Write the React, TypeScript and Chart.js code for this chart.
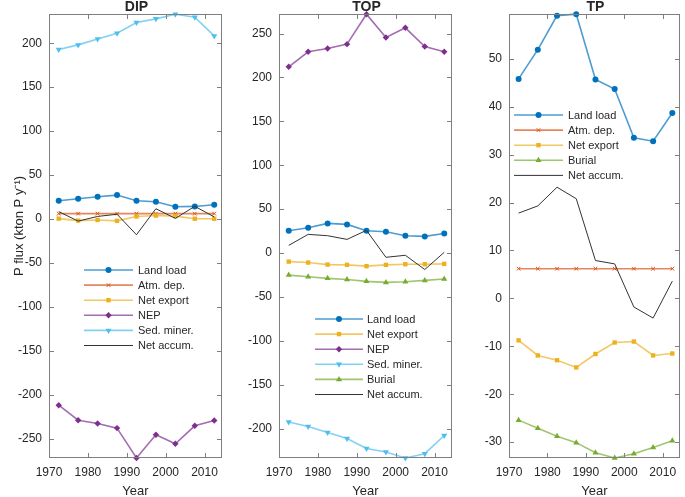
import React, { useEffect, useRef } from 'react';
import { Chart, registerables } from 'chart.js';

Chart.register(...registerables);

const FONT = "'Liberation Sans', Arial, Helvetica, sans-serif";
const TEXT = '#262626';
const AXIS = '#7f7f7f';
const H = 497;

// ---------- data ----------
const years = [1972.5, 1977.5, 1982.5, 1987.5, 1992.5, 1997.5, 2002.5, 2007.5, 2012.5];
const xMin = 1970;
const xMax = 2014.5;
const xTicks = [1970, 1980, 1990, 2000, 2010];

const dipYTicks = [-250, -200, -150, -100, -50, 0, 50, 100, 150, 200];
const topYTicks = [-200, -150, -100, -50, 0, 50, 100, 150, 200, 250];
const tpYTicks = [-30, -20, -10, 0, 10, 20, 30, 40, 50];

// DIP
const dipLandLoad = [20.8, 23.1, 25.4, 27.3, 20.8, 19.7, 14.0, 14.4, 16.3];
const dipAtmDep = [6.2, 6.2, 6.2, 6.2, 6.2, 6.2, 6.2, 6.2, 6.2];
const dipNetExport = [0.5, -1.7, -1.0, -2.0, 3.0, 4.0, 3.4, 0.4, 0.4];
const dipNEP = [-211.7, -228.7, -232.5, -237.7, -271.7, -245.3, -255.5, -235.1, -229.1];
const dipSedMiner = [192.8, 198.1, 204.9, 211.4, 223.5, 227.7, 233.0, 229.6, 208.3];
const dipNetAccum = [8.5, -2.3, 3.0, 5.5, -17.8, 11.8, 0.8, 14.5, 2.5];

// TOP
const topLandLoad = [25.4, 28.8, 33.7, 32.6, 25.4, 24.2, 19.7, 18.9, 22.3];
const topNetExport = [-9.8, -10.9, -13.2, -13.5, -15.0, -13.5, -12.8, -12.8, -12.4];
const topNEP = [212.1, 229.2, 233.0, 237.9, 272.0, 245.5, 256.5, 235.2, 229.2];
const topSedMiner = [-192.5, -197.7, -204.5, -211.3, -222.6, -226.7, -233.5, -228.6, -207.9];
const topBurial = [-25.2, -27.1, -28.9, -30.1, -32.3, -33.5, -32.7, -31.2, -29.7];
const topNetAccum = [8.7, 21.2, 19.7, 15.5, 25.8, -4.9, -2.6, -18.8, 0.8];

// TP
const tpLandLoad = [45.8, 51.9, 59.0, 59.3, 45.7, 43.7, 33.5, 32.8, 38.7];
const tpAtmDep = [6.2, 6.2, 6.2, 6.2, 6.2, 6.2, 6.2, 6.2, 6.2];
const tpNetExport = [-8.75, -11.9, -12.9, -14.4, -11.6, -9.2, -9.0, -11.9, -11.5];
const tpBurial = [-25.4, -27.1, -28.75, -30.1, -32.2, -33.3, -32.4, -31.1, -29.7];
const tpNetAccum = [17.8, 19.3, 23.2, 20.8, 7.9, 7.2, -1.8, -4.1, 3.6];

// ---------- styles ----------
const STYLE: any = {
  land: { label: 'Land load', color: '#0072BD', point: 'circle', r: 3 },
  atm: { label: 'Atm. dep.', color: '#D95319', point: 'crossRot', r: 2.6 },
  exp: { label: 'Net export', color: '#EDB120', point: 'rect', r: 3.1 },
  nep: { label: 'NEP', color: '#7E2F8E', point: 'rectRot', r: 3.2 },
  sed: { label: 'Sed. miner.', color: '#4DBEEE', point: 'triangle', r: 3.5, rot: 180 },
  bur: { label: 'Burial', color: '#77AC30', point: 'triangle', r: 3.5, rot: 0 },
  acc: { label: 'Net accum.', color: '#262626', point: null, r: 0 },
};

const panels: any[] = [
  {
    title: 'DIP', left: 0, width: 230, padRight: 8, yTicks: dipYTicks,
    yTitle: 'P flux (kton P y\u207B\u00B9)',
    legend: { x0: 84, x1: 133, tx: 138, y0: 270, dy: 15.1 },
    series: [
      ['land', dipLandLoad], ['atm', dipAtmDep], ['exp', dipNetExport],
      ['nep', dipNEP], ['sed', dipSedMiner], ['acc', dipNetAccum],
    ],
  },
  {
    title: 'TOP', left: 230, width: 230, padRight: 8, yTicks: topYTicks,
    legend: { x0: 85, x1: 133, tx: 137, y0: 319, dy: 15.1 },
    series: [
      ['land', topLandLoad], ['exp', topNetExport], ['nep', topNEP],
      ['sed', topSedMiner], ['bur', topBurial], ['acc', topNetAccum],
    ],
  },
  {
    title: 'TP', left: 460, width: 225, padRight: 1, yTicks: tpYTicks,
    legend: { x0: 54, x1: 103, tx: 108, y0: 115, dy: 15.1 },
    series: [
      ['land', tpLandLoad], ['atm', tpAtmDep], ['exp', tpNetExport],
      ['bur', tpBurial], ['acc', tpNetAccum],
    ],
  },
];

function withAlpha(hex: string, a: number) {
  const n = parseInt(hex.slice(1), 16);
  return `rgba(${(n >> 16) & 255},${(n >> 8) & 255},${n & 255},${a})`;
}

function lineColor(s: any) {
  return s.point ? withAlpha(s.color, 0.7) : '#333333';
}

function drawMarker(ctx: CanvasRenderingContext2D, s: any, x: number, y: number) {
  const r = s.r;
  ctx.save();
  ctx.fillStyle = s.color;
  ctx.strokeStyle = s.color;
  ctx.lineWidth = 1;
  ctx.beginPath();
  if (s.point === 'circle') {
    ctx.arc(x, y, r, 0, Math.PI * 2);
    ctx.fill();
  } else if (s.point === 'rect') {
    const h = r * Math.SQRT1_2;
    ctx.rect(x - h, y - h, 2 * h, 2 * h);
    ctx.fill();
  } else if (s.point === 'rectRot') {
    ctx.moveTo(x, y - r); ctx.lineTo(x + r, y); ctx.lineTo(x, y + r); ctx.lineTo(x - r, y);
    ctx.closePath(); ctx.fill();
  } else if (s.point === 'triangle') {
    let rad = ((s.rot || 0) * Math.PI) / 180;
    for (let i = 0; i < 3; i++) {
      const px = x + Math.sin(rad) * r, py = y - Math.cos(rad) * r;
      if (i === 0) ctx.moveTo(px, py); else ctx.lineTo(px, py);
      rad += (2 * Math.PI) / 3;
    }
    ctx.closePath(); ctx.fill();
  } else if (s.point === 'crossRot') {
    const o = r * Math.SQRT1_2;
    ctx.moveTo(x - o, y - o); ctx.lineTo(x + o, y + o);
    ctx.moveTo(x - o, y + o); ctx.lineTo(x + o, y - o);
    ctx.stroke();
  }
  ctx.restore();
}

function makePlugin(panel: any) {
  return {
    id: 'matlabFrame',
    afterDraw(chart: any) {
      const { ctx, chartArea: a } = chart;
      ctx.save();
      // axes box
      ctx.strokeStyle = AXIS;
      ctx.lineWidth = 1;
      const L = Math.round(a.left) + 0.5;
      const R = Math.round(a.right) - 0.5;
      const T = Math.round(a.top) + 0.5;
      const B = Math.round(a.bottom) - 0.5;
      ctx.strokeRect(L, T, R - L, B - T);
      // inward ticks on all sides
      const tl = 4.5;
      ctx.beginPath();
      chart.scales.x.ticks.forEach((t: any) => {
        const px = Math.round(chart.scales.x.getPixelForValue(t.value)) + 0.5;
        ctx.moveTo(px, B); ctx.lineTo(px, B - tl);
        ctx.moveTo(px, T); ctx.lineTo(px, T + tl);
      });
      chart.scales.y.ticks.forEach((t: any) => {
        const py = Math.round(chart.scales.y.getPixelForValue(t.value)) + 0.5;
        ctx.moveTo(L, py); ctx.lineTo(L + tl, py);
        ctx.moveTo(R, py); ctx.lineTo(R - tl, py);
      });
      ctx.stroke();

      // panel title
      ctx.fillStyle = TEXT;
      ctx.font = `bold 14px ${FONT}`;
      ctx.textAlign = 'center';
      ctx.textBaseline = 'alphabetic';
      ctx.fillText(panel.title, (a.left + a.right) / 2 + 1, 10.5);

      // y axis title
      if (panel.yTitle) {
        ctx.save();
        ctx.translate(19, 226);
        ctx.rotate(-Math.PI / 2);
        ctx.font = `13px ${FONT}`;
        ctx.textAlign = 'center';
        ctx.textBaseline = 'middle';
        ctx.fillText(panel.yTitle, 0, 0);
        ctx.restore();
      }

      // legend
      const lg = panel.legend;
      panel.series.forEach((entry: any, i: number) => {
        const s = STYLE[entry[0]];
        const y = lg.y0 + i * lg.dy;
        ctx.strokeStyle = lineColor(s);
        ctx.lineWidth = s.point ? 1.6 : 1;
        ctx.beginPath();
        ctx.moveTo(lg.x0, y);
        ctx.lineTo(lg.x1, y);
        ctx.stroke();
        if (s.point) drawMarker(ctx, s, (lg.x0 + lg.x1) / 2, y);
        ctx.fillStyle = TEXT;
        ctx.font = `11px ${FONT}`;
        ctx.textAlign = 'left';
        ctx.textBaseline = 'middle';
        ctx.fillText(s.label, lg.tx, y + 0.5);
      });
      ctx.restore();
    },
  };
}

function buildConfig(panel: any): any {
  const all: number[] = [];
  panel.series.forEach((e: any) => all.push(...e[1]));
  const yMin = Math.min(...all);
  const yMax = Math.max(...all);
  const n = panel.series.length;
  const datasets = panel.series.map((e: any, i: number) => {
    const s = STYLE[e[0]];
    const vals: number[] = e[1];
    return {
      label: s.label,
      data: years.map((x, j) => ({ x, y: vals[j] })),
      borderColor: lineColor(s),
      borderWidth: s.point ? 1.6 : 1,
      backgroundColor: s.color,
      pointStyle: s.point || false,
      pointRadius: s.point ? s.r : 0,
      pointBackgroundColor: s.color,
      pointBorderColor: s.color,
      pointBorderWidth: s.point === 'crossRot' ? 1 : 0,
      pointRotation: s.rot || 0,
      tension: 0,
      fill: false,
      clip: false,
      order: n - i,
    };
  });
  return {
    type: 'line',
    data: { datasets },
    options: {
      animation: false,
      responsive: false,
      maintainAspectRatio: false,
      devicePixelRatio: 1,
      events: [],
      layout: { padding: { top: 14, right: panel.padRight, left: 0, bottom: 0 } },
      plugins: { legend: { display: false }, tooltip: { enabled: false }, title: { display: false } },
      scales: {
        x: {
          type: 'linear',
          min: xMin,
          max: xMax,
          afterBuildTicks: (scale: any) => { scale.ticks = xTicks.map((v) => ({ value: v })); },
          afterFit: (scale: any) => { scale.height = 39; },
          grid: { display: false, drawTicks: false },
          border: { display: false },
          ticks: {
            autoSkip: false, maxRotation: 0, minRotation: 0, padding: 7, color: TEXT,
            font: { family: FONT, size: 12 },
            callback: (v: any) => String(v),
          },
          title: {
            display: true, text: 'Year', color: TEXT,
            font: { family: FONT, size: 13, lineHeight: 0.85 },
            padding: { top: 0, bottom: 0 },
          },
        },
        y: {
          type: 'linear',
          min: yMin,
          max: yMax,
          afterBuildTicks: (scale: any) => { scale.ticks = panel.yTicks.map((v: number) => ({ value: v })); },
          afterFit: (scale: any) => { scale.width = 49; },
          grid: { display: false, drawTicks: false },
          border: { display: false },
          ticks: {
            autoSkip: false, padding: 7, color: TEXT,
            font: { family: FONT, size: 12 },
            callback: (v: any) => String(v),
          },
        },
      },
    },
    plugins: [makePlugin(panel)],
  };
}

function Panel({ panel }: { panel: any }) {
  const ref = useRef<HTMLCanvasElement>(null);
  useEffect(() => {
    if (!ref.current) return;
    const chart = new Chart(ref.current, buildConfig(panel));
    return () => chart.destroy();
  }, [panel]);
  return (
    <canvas
      ref={ref}
      width={panel.width}
      height={H}
      style={{ position: 'absolute', left: panel.left, top: 0, width: panel.width, height: H, display: 'block' }}
    />
  );
}

export default function App() {
  return (
    <div style={{ position: 'fixed', left: 0, top: 0, width: 685, height: H, background: '#ffffff', overflow: 'hidden' }}>
      {panels.map((p) => (
        <Panel key={p.title} panel={p} />
      ))}
    </div>
  );
}
